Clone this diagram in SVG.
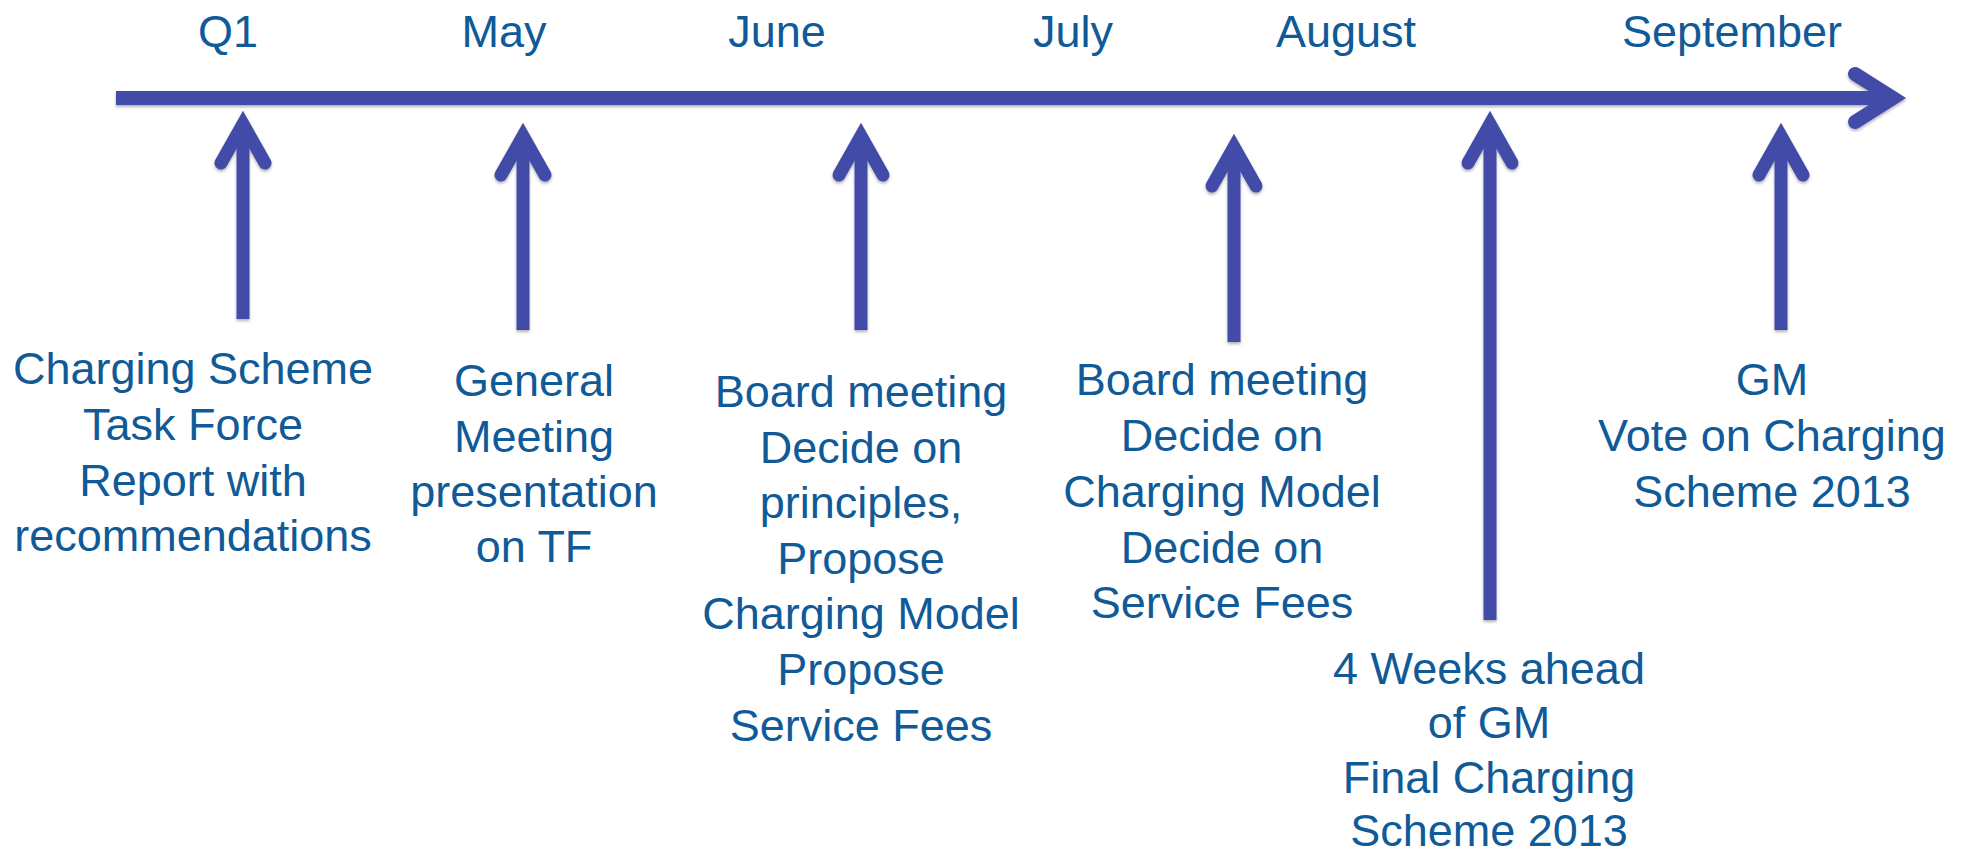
<svg xmlns="http://www.w3.org/2000/svg" width="1970" height="857" viewBox="0 0 1970 857">
<defs>
<filter id="sh" x="-50%" y="-20%" width="200%" height="140%">
<feDropShadow dx="0" dy="2" stdDeviation="1.5" flood-color="#000" flood-opacity="0.3"/>
</filter>
<style>
.t{font-family:"Liberation Sans",Arial,Helvetica,sans-serif;font-size:45px;fill:#105A98;text-anchor:middle}
.shaft{stroke:#434BA8;stroke-width:13;fill:none;stroke-linecap:butt}
.head{stroke:#434BA8;stroke-width:13;fill:none;stroke-linecap:round;stroke-linejoin:miter;stroke-miterlimit:6}
.main{stroke:#434BA8;stroke-width:14;fill:none}
.mainhead{stroke:#434BA8;stroke-width:14;fill:none;stroke-linecap:round;stroke-linejoin:miter;stroke-miterlimit:6}
</style>
</defs>
<rect width="1970" height="857" fill="#fff"/>

<g id="timeline" filter="url(#sh)">
<path class="main" d="M116,98 H1893"/>
<path class="mainhead" d="M1855,74 L1893,98 L1855,122"/>
</g>

<g id="months">
<text class="t" x="228" y="47">Q1</text>
<text class="t" x="504" y="47">May</text>
<text class="t" x="777" y="47">June</text>
<text class="t" x="1073" y="47">July</text>
<text class="t" x="1346" y="47">August</text>
<text class="t" x="1732" y="47">September</text>
</g>

<g id="connectors" filter="url(#sh)">
<path class="shaft" d="M243,124 V319"/>
<path class="head" d="M221,163 L243,124 L265,163"/>
<path class="shaft" d="M523,136 V330"/>
<path class="head" d="M501,175 L523,136 L545,175"/>
<path class="shaft" d="M861,136 V330"/>
<path class="head" d="M839,175 L861,136 L883,175"/>
<path class="shaft" d="M1234,147 V342"/>
<path class="head" d="M1212,186 L1234,147 L1256,186"/>
<path class="shaft" d="M1490,124 V620"/>
<path class="head" d="M1468,163 L1490,124 L1512,163"/>
<path class="shaft" d="M1781,136 V330"/>
<path class="head" d="M1759,175 L1781,136 L1803,175"/>
</g>

<g id="node-q1">
<text class="t" x="193" y="384">Charging Scheme</text>
<text class="t" x="193" y="440">Task Force</text>
<text class="t" x="193" y="496">Report with</text>
<text class="t" x="193" y="551">recommendations</text>
</g>

<g id="node-may">
<text class="t" x="534" y="396">General</text>
<text class="t" x="534" y="452">Meeting</text>
<text class="t" x="534" y="507">presentation</text>
<text class="t" x="534" y="562">on TF</text>
</g>

<g id="node-june">
<text class="t" x="861" y="407">Board meeting</text>
<text class="t" x="861" y="463">Decide on</text>
<text class="t" x="861" y="518">principles,</text>
<text class="t" x="861" y="574">Propose</text>
<text class="t" x="861" y="629">Charging Model</text>
<text class="t" x="861" y="685">Propose</text>
<text class="t" x="861" y="741">Service Fees</text>
</g>

<g id="node-august">
<text class="t" x="1222" y="395">Board meeting</text>
<text class="t" x="1222" y="451">Decide on</text>
<text class="t" x="1222" y="507">Charging Model</text>
<text class="t" x="1222" y="563">Decide on</text>
<text class="t" x="1222" y="618">Service Fees</text>
</g>

<g id="node-4weeks">
<text class="t" x="1489" y="684">4 Weeks ahead</text>
<text class="t" x="1489" y="738">of GM</text>
<text class="t" x="1489" y="793">Final Charging</text>
<text class="t" x="1489" y="846">Scheme 2013</text>
</g>

<g id="node-september">
<text class="t" x="1772" y="395">GM</text>
<text class="t" x="1772" y="451">Vote on Charging</text>
<text class="t" x="1772" y="507">Scheme 2013</text>
</g>
</svg>
